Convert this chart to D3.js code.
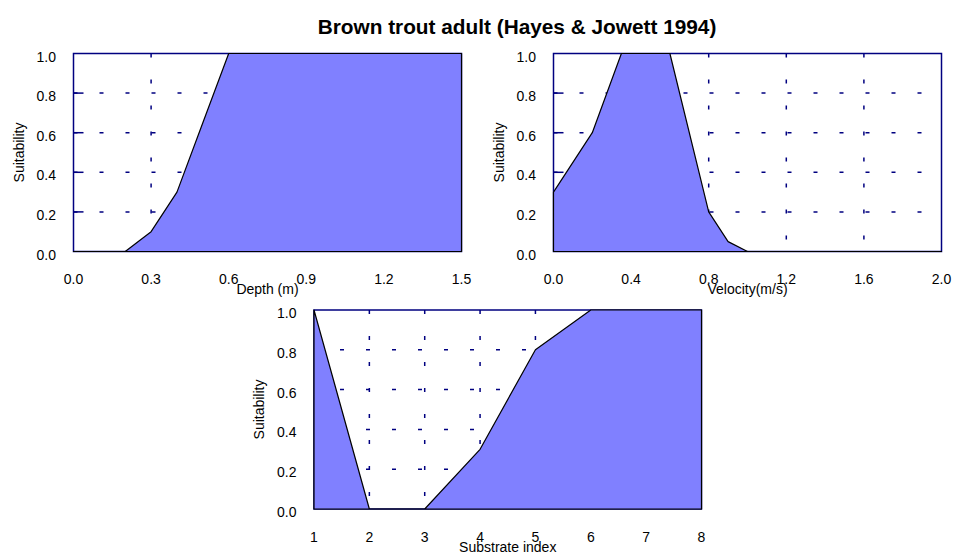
<!DOCTYPE html>
<html lang="en">
<head>
<meta charset="UTF-8">
<title>Brown trout adult</title>
<script src="https://d3js.org/d3.v7.min.js"></script>
<style>
  body { margin: 0; background: #fff; }
  text { font-family: "Liberation Sans", Arial, sans-serif; fill: #000; }
</style>
</head>
<body>
<svg id="chart" width="954" height="553"></svg>
<script>
// suitability curves
var depthX = [0, 0.2, 0.3, 0.4, 0.5, 0.6, 1.5];
var depthY = [0, 0, 0.1, 0.3, 0.65, 1.0, 1.0];

var velX = [0, 0.2, 0.35, 0.6, 0.8, 0.9, 1.0, 2.0];
var velY = [0.3, 0.6, 1.0, 1.0, 0.2, 0.05, 0, 0];

var subX = [1, 2, 3, 4, 5, 6, 8];
var subY = [1.0, 0, 0, 0.3, 0.8, 1.0, 1.0];

var yTicks = [0, 0.2, 0.4, 0.6, 0.8, 1.0];
var depthTicks = [0, 0.3, 0.6, 0.9, 1.2, 1.5];
var velTicks = [0, 0.4, 0.8, 1.2, 1.6, 2.0];
var subTicks = [1, 2, 3, 4, 5, 6, 7, 8];

var svg = d3.select("#chart");
var navy = "#000080";

svg.append("text")
  .attr("x", 517).attr("y", 34)
  .attr("text-anchor", "middle")
  .style("font-size", "20.8px").style("font-weight", "bold")
  .text("Brown trout adult (Hayes & Jowett 1994)");

function panel(cfg) {
  var x = d3.scaleLinear().domain(cfg.domain).range([cfg.left, cfg.right]);
  var y = d3.scaleLinear().domain([0, 1]).range([cfg.bottom, cfg.top]);
  var g = svg.append("g");

  // grid (drawn first, fill covers it)
  g.selectAll(".hg").data(yTicks.slice(1, -1)).enter().append("line")
    .attr("x1", cfg.left).attr("x2", cfg.right)
    .attr("y1", function(d) { return y(d); }).attr("y2", function(d) { return y(d); })
    .attr("stroke", navy).attr("stroke-width", 1.5)
    .attr("stroke-dasharray", "4,22");
  g.selectAll(".vg").data(cfg.ticks.slice(1, -1)).enter().append("line")
    .attr("y1", cfg.top).attr("y2", cfg.bottom)
    .attr("x1", function(d) { return x(d); }).attr("x2", function(d) { return x(d); })
    .attr("stroke", navy).attr("stroke-width", 1.5)
    .attr("stroke-dasharray", "4,22");
  // short inward ticks on the y axis
  g.selectAll(".yt").data(yTicks.slice(1, -1)).enter().append("line")
    .attr("x1", cfg.left).attr("x2", cfg.left + 10)
    .attr("y1", function(d) { return y(d); }).attr("y2", function(d) { return y(d); })
    .attr("stroke", navy).attr("stroke-width", 1.5);

  g.append("rect")
    .attr("x", cfg.left).attr("y", cfg.top)
    .attr("width", cfg.right - cfg.left).attr("height", cfg.bottom - cfg.top)
    .attr("fill", "none").attr("stroke", navy).attr("stroke-width", 1.5);

  var pts = cfg.xs.map(function(v, i) { return [v, cfg.ys[i]]; });
  var area = d3.area()
    .x(function(d) { return x(d[0]); })
    .y0(y(0)).y1(function(d) { return y(d[1]); });
  g.append("path").datum(pts)
    .attr("d", area)
    .attr("fill", "#8080ff")
    .attr("stroke", "#000").attr("stroke-width", 1.2)
    .attr("stroke-linejoin", "round");

  g.selectAll(".yl").data(yTicks).enter().append("text")
    .attr("x", cfg.left - 17.5)
    .attr("y", function(d) { return y(d) + 8; })
    .attr("text-anchor", "end")
    .style("font-size", "14px")
    .text(function(d) { return d.toFixed(1); });

  g.selectAll(".xl").data(cfg.ticks).enter().append("text")
    .attr("x", function(d) { return x(d); })
    .attr("y", cfg.bottom + 32.5)
    .attr("text-anchor", "middle")
    .style("font-size", "14px")
    .text(cfg.fmt);

  g.append("text")
    .attr("x", (cfg.left + cfg.right) / 2)
    .attr("y", cfg.bottom + 42.5)
    .attr("text-anchor", "middle")
    .style("font-size", "14px")
    .text(cfg.xlabel);

  g.append("text")
    .attr("transform", "translate(" + (cfg.left - 50) + "," + ((cfg.top + cfg.bottom) / 2) + ") rotate(-90)")
    .attr("text-anchor", "middle")
    .style("font-size", "14px")
    .text("Suitability");
}

panel({ left: 73.5, right: 461.5, top: 53.5, bottom: 251.5, domain: [0, 1.5],
  ticks: depthTicks, xs: depthX, ys: depthY, xlabel: "Depth (m)",
  fmt: function(d) { return d.toFixed(1); } });
panel({ left: 553.5, right: 941.5, top: 53.5, bottom: 251.5, domain: [0, 2.0],
  ticks: velTicks, xs: velX, ys: velY, xlabel: "Velocity(m/s)",
  fmt: function(d) { return d.toFixed(1); } });
panel({ left: 314, right: 701.5, top: 310, bottom: 509, domain: [1, 8],
  ticks: subTicks, xs: subX, ys: subY, xlabel: "Substrate index",
  fmt: function(d) { return d; } });
</script>
</body>
</html>
